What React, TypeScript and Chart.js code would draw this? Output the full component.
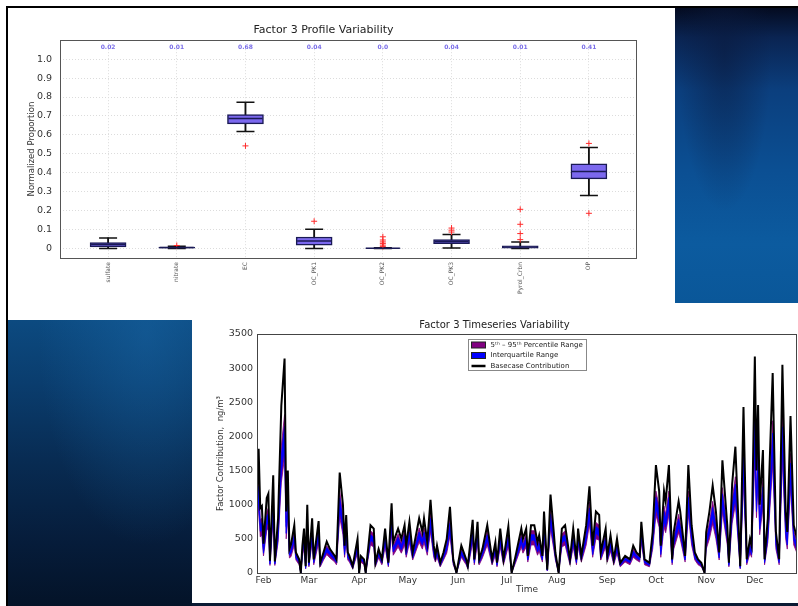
import React, { useEffect, useRef } from "react";
import { Chart, registerables } from "chart.js";

Chart.register(...registerables);

const FONT = "'DejaVu Sans', 'Liberation Sans', sans-serif";

// ---------- Profile (box plot) data ----------
const profileLabels = ["sulfate", "nitrate", "EC", "OC_PK1", "OC_PK2", "OC_PK3", "Pyrol_Crbn", "OP"];
const profileTopValues = ["0.02", "0.01", "0.68", "0.04", "0.0", "0.04", "0.01", "0.41"];
const boxQ1 = [0.009, 0.002, 0.658, 0.018, 0.0, 0.026, 0.002, 0.368];
const boxQ3 = [0.032, 0.008, 0.707, 0.061, 0.002, 0.047, 0.014, 0.447];
const boxMedian = [0.021, 0.005, 0.686, 0.04, 0.001, 0.037, 0.008, 0.407];
const whiskerLow = [0.0, 0.0, 0.618, 0.0, 0.0, 0.003, 0.0, 0.28];
const whiskerHigh = [0.056, 0.012, 0.772, 0.102, 0.004, 0.074, 0.035, 0.533];
const outliers = [
  [],
  [0.016],
  [0.542],
  [0.144],
  [0.01, 0.018, 0.027, 0.035, 0.045, 0.062],
  [0.087, 0.097, 0.108],
  [0.047, 0.079, 0.128, 0.207],
  [0.555, 0.186],
];
const profileYTicks = [0, 0.1, 0.2, 0.3, 0.4, 0.5, 0.6, 0.7, 0.8, 0.9, 1.0];

// ---------- Timeseries data (day of year) ----------
const monthDays = [31, 59, 90, 120, 151, 181, 212, 243, 273, 304, 334];
const monthNames = ["Feb", "Mar", "Apr", "May", "Jun", "Jul", "Aug", "Sep", "Oct", "Nov", "Dec"];
const seriesYTicks = [0, 500, 1000, 1500, 2000, 2500, 3000, 3500];

const seriesDays = [
  27, 28, 29, 30, 31, 33, 34, 35, 37, 38,
  40, 42, 44, 45, 46, 47, 48, 50, 51, 53,
  54, 55, 56, 57, 58, 59, 61, 62, 65, 66,
  68, 70, 72, 75, 76, 78, 80, 81, 82, 83,
  84, 86, 89, 90, 91, 93, 94, 97, 99, 100,
  102, 104, 106, 108, 110, 111, 114, 116, 118, 119,
  121, 123, 127, 129, 130, 132, 134, 136, 137, 138,
  140, 142, 144, 146, 148, 150, 153, 156, 157, 160,
  161, 163, 164, 166, 169, 172, 174, 175, 177, 179,
  182, 184, 186, 190, 191, 193, 194, 196, 198, 200,
  201, 203, 204, 206, 208, 210, 211, 213, 215, 217,
  220, 222, 224, 225, 227, 230, 232, 234, 236, 238,
  239, 242, 243, 245, 247, 249, 251, 254, 257, 259,
  261, 263, 264, 266, 269, 271, 273, 275, 276, 278,
  279, 281, 283, 284, 287, 288, 291, 293, 295, 297,
  299, 301, 303, 304, 306, 308, 310, 312, 314, 317,
  318, 320, 322, 325, 327, 329, 331, 332, 334, 335,
  336, 337, 339, 340, 342, 345, 347, 349, 351, 353,
  354, 356, 358, 360,
];

const basecase = [
  1050, 1820, 950, 980, 430, 1100, 1160, 180, 1430, 170,
  800, 2450, 3140, 900, 1500, 350, 420, 700, 300, 200,
  0, 400, 650, 100, 1000, 150, 800, 200, 760, 150,
  300, 460, 350, 250, 200, 1470, 1000, 400, 850, 300,
  250, 100, 500, 0, 250, 200, 0, 700, 650, 150,
  350, 200, 650, 150, 1020, 450, 650, 500, 700, 400,
  750, 300, 800, 600, 800, 450, 1070, 400, 250, 400,
  150, 300, 500, 970, 200, 0, 400, 200, 100, 780,
  200, 750, 200, 350, 700, 200, 450, 150, 650, 200,
  680, 0, 200, 650, 500, 650, 250, 700, 700, 450,
  550, 250, 900, 50, 1150, 600, 300, 0, 650, 700,
  200, 650, 200, 650, 250, 700, 1270, 400, 900, 850,
  300, 650, 250, 550, 200, 500, 150, 250, 200, 400,
  300, 250, 750, 200, 150, 600, 1580, 1200, 400, 1200,
  1050, 1580, 200, 600, 1050, 900, 250, 1580, 700, 300,
  200, 150, 0, 600, 900, 1280, 900, 300, 1650, 700,
  150, 1300, 1850, 100, 2430, 200, 500, 400, 3170, 1500,
  2460, 1000, 1800, 200, 800, 2930, 600, 200, 3050, 900,
  600, 2300, 700, 500,
];

const p95 = [
  860, 1380, 780, 800, 380, 900, 950, 170, 1170, 160,
  660, 1860, 2320, 740, 1140, 330, 370, 620, 290, 190,
  0, 350, 570, 100, 820, 140, 660, 190, 670, 140,
  290, 400, 330, 240, 190, 1210, 820, 350, 700, 290,
  240, 100, 440, 0, 240, 190, 0, 620, 570, 140,
  330, 190, 570, 140, 840, 400, 570, 440, 620, 350,
  660, 290, 660, 530, 660, 400, 880, 350, 240, 350,
  140, 290, 440, 800, 190, 0, 350, 190, 100, 690,
  190, 660, 190, 330, 620, 190, 400, 140, 570, 190,
  600, 0, 190, 570, 440, 570, 240, 620, 620, 400,
  480, 240, 740, 50, 940, 530, 290, 0, 570, 620,
  190, 570, 190, 570, 240, 620, 1040, 350, 740, 700,
  290, 570, 240, 480, 190, 440, 140, 240, 190, 350,
  290, 240, 660, 190, 140, 530, 1200, 980, 350, 980,
  860, 1200, 190, 530, 860, 740, 240, 1200, 620, 290,
  190, 140, 0, 530, 740, 1050, 740, 290, 1250, 620,
  140, 1070, 1410, 100, 1850, 190, 440, 350, 2410, 1140,
  1870, 820, 1370, 190, 660, 2230, 530, 190, 2320, 740,
  530, 1750, 620, 440,
];

const p75 = [
  790, 1270, 710, 740, 340, 830, 870, 160, 1070, 150,
  600, 1720, 2150, 680, 1050, 310, 340, 560, 260, 180,
  0, 320, 520, 90, 750, 130, 600, 180, 610, 130,
  260, 370, 310, 220, 180, 1100, 750, 320, 640, 260,
  220, 90, 400, 0, 220, 180, 0, 560, 520, 130,
  310, 180, 520, 130, 770, 360, 520, 400, 560, 320,
  600, 260, 600, 480, 600, 360, 800, 320, 220, 320,
  130, 260, 400, 730, 180, 0, 320, 180, 90, 620,
  180, 600, 180, 310, 560, 180, 360, 130, 520, 180,
  540, 0, 180, 520, 400, 520, 220, 560, 560, 360,
  440, 220, 680, 40, 860, 480, 260, 0, 520, 560,
  180, 520, 180, 520, 220, 560, 950, 320, 680, 640,
  260, 520, 220, 440, 180, 400, 130, 220, 180, 320,
  260, 220, 600, 180, 130, 480, 1110, 900, 320, 900,
  790, 1110, 180, 480, 790, 680, 220, 1110, 560, 260,
  180, 130, 0, 480, 680, 960, 680, 260, 1160, 560,
  130, 980, 1300, 90, 1700, 180, 400, 320, 2220, 1050,
  1720, 750, 1260, 180, 600, 2050, 480, 180, 2140, 680,
  480, 1610, 560, 400,
];

const p25 = [
  670, 1090, 610, 630, 290, 700, 740, 130, 920, 130,
  510, 1470, 1850, 580, 900, 260, 290, 480, 220, 150,
  0, 270, 440, 70, 640, 110, 510, 150, 520, 110,
  220, 310, 260, 190, 150, 940, 640, 270, 540, 220,
  190, 70, 340, 0, 190, 150, 0, 480, 440, 110,
  260, 150, 440, 110, 650, 310, 440, 340, 480, 270,
  510, 220, 510, 410, 510, 310, 680, 270, 190, 270,
  110, 220, 340, 620, 150, 0, 270, 150, 70, 530,
  150, 510, 150, 260, 480, 150, 310, 110, 440, 150,
  460, 0, 150, 440, 340, 440, 190, 480, 480, 310,
  370, 190, 580, 40, 740, 410, 220, 0, 440, 480,
  150, 440, 150, 440, 190, 480, 810, 270, 580, 540,
  220, 440, 190, 370, 150, 340, 110, 190, 150, 270,
  220, 190, 510, 150, 110, 410, 950, 770, 270, 770,
  670, 950, 150, 410, 670, 580, 190, 950, 480, 220,
  150, 110, 0, 410, 580, 820, 580, 220, 990, 480,
  110, 830, 1110, 70, 1460, 150, 340, 270, 1900, 900,
  1480, 640, 1080, 150, 510, 1760, 410, 150, 1830, 580,
  410, 1380, 480, 340,
];

const p5 = [
  590, 980, 530, 550, 250, 620, 650, 110, 800, 110,
  450, 1320, 1700, 500, 810, 220, 240, 410, 190, 120,
  0, 230, 380, 60, 560, 90, 450, 120, 440, 90,
  190, 270, 220, 160, 120, 820, 560, 230, 480, 190,
  160, 60, 290, 0, 160, 120, 0, 410, 380, 90,
  220, 120, 380, 90, 570, 260, 380, 290, 410, 230,
  440, 190, 450, 350, 450, 260, 600, 230, 160, 230,
  90, 190, 290, 540, 120, 0, 230, 120, 60, 450,
  120, 440, 120, 220, 410, 120, 260, 90, 380, 120,
  390, 0, 120, 380, 290, 380, 160, 410, 410, 260,
  320, 160, 500, 30, 640, 350, 190, 0, 380, 410,
  120, 380, 120, 380, 160, 410, 710, 230, 500, 480,
  190, 380, 160, 320, 120, 290, 90, 160, 120, 230,
  190, 160, 440, 120, 90, 350, 850, 670, 230, 670,
  590, 850, 120, 350, 590, 500, 160, 850, 410, 190,
  120, 90, 0, 350, 500, 720, 500, 190, 890, 410,
  90, 730, 1000, 60, 1310, 120, 290, 230, 1710, 810,
  1330, 560, 970, 120, 450, 1580, 350, 120, 1650, 500,
  350, 1240, 410, 290,
];

const legendItems = [
  { text: "5\u1D57\u02B0 \u2013 95\u1D57\u02B0 Percentile Range", color: "#800080", kind: "patch" },
  { text: "Interquartile Range", color: "#0000ff", kind: "patch" },
  { text: "Basecase Contribution", color: "#000000", kind: "line" },
];

// ---------- plugins ----------
const framePlugin = (color: string) => ({
  id: "frameBox",
  afterDatasetsDraw(chart: any) {
    const { ctx, chartArea: a } = chart;
    ctx.save();
    ctx.strokeStyle = color;
    ctx.lineWidth = 1;
    ctx.strokeRect(Math.round(a.left) + 0.5, Math.round(a.top) + 0.5, Math.round(a.right - a.left) - 1, Math.round(a.bottom - a.top));
    ctx.restore();
  },
});

const topValuesPlugin = {
  id: "topValues",
  afterDatasetsDraw(chart: any) {
    const { ctx, chartArea: a, scales } = chart;
    ctx.save();
    ctx.fillStyle = "#7a6ee8";
    ctx.font = `bold 6px ${FONT}`;
    ctx.textAlign = "center";
    ctx.textBaseline = "middle";
    profileTopValues.forEach((t, i) => {
      ctx.fillText(t, scales.x.getPixelForValue(i + 1), a.top + 7);
    });
    ctx.restore();
  },
};

const seriesLegendPlugin = {
  id: "seriesLegend",
  afterDraw(chart: any) {
    const { ctx, chartArea: a } = chart;
    const x0 = Math.round(a.left + 211) + 0.5;
    const y0 = Math.round(a.top + 5) + 0.5;
    const w = 118;
    const h = 31;
    ctx.save();
    ctx.fillStyle = "#ffffff";
    ctx.fillRect(x0, y0, w, h);
    ctx.strokeStyle = "#888";
    ctx.lineWidth = 1;
    ctx.strokeRect(x0, y0, w, h);
    ctx.font = `7px ${FONT}`;
    ctx.textBaseline = "middle";
    ctx.textAlign = "left";
    legendItems.forEach((it, i) => {
      const cy = y0 + 5.5 + i * 10.5;
      if (it.kind === "patch") {
        ctx.fillStyle = it.color;
        ctx.fillRect(x0 + 3, cy - 3, 14, 6);
        ctx.strokeStyle = "#222";
        ctx.strokeRect(x0 + 3, cy - 3, 14, 6);
      } else {
        ctx.strokeStyle = it.color;
        ctx.lineWidth = 2.5;
        ctx.beginPath();
        ctx.moveTo(x0 + 3, cy);
        ctx.lineTo(x0 + 17, cy);
        ctx.stroke();
        ctx.lineWidth = 1;
      }
      ctx.fillStyle = "#222";
      ctx.fillText(it.text, x0 + 22, cy);
    });
    ctx.restore();
  },
};

function profileConfig(): any {
  const boxData = profileLabels.map((_, i) => ({ x: i + 1, y: [boxQ1[i], boxQ3[i]] }));
  const whiskerData = profileLabels.map((_, i) => ({ x: i + 1, y: [whiskerLow[i], whiskerHigh[i]] }));
  const capData = profileLabels.flatMap((_, i) => [
    { x: i + 1, y: whiskerLow[i] },
    { x: i + 1, y: whiskerHigh[i] },
  ]);
  const medianData = profileLabels.map((_, i) => ({ x: i + 1, y: boxMedian[i] }));
  const outlierData = outliers.flatMap((arr, i) => arr.map((v) => ({ x: i + 1, y: v })));

  return {
    type: "bar",
    data: {
      datasets: [
        {
          type: "bar",
          label: "box",
          data: boxData,
          backgroundColor: "#7b68ee",
          borderColor: "#1a1a55",
          borderWidth: 1.5,
          borderSkipped: false,
          barThickness: 36,
          grouped: false,
          order: 1,
        },
        {
          type: "bar",
          label: "whisker",
          data: whiskerData,
          backgroundColor: "#111111",
          borderWidth: 0,
          barThickness: 1.2,
          grouped: false,
          order: 3,
        },
        {
          type: "scatter",
          label: "caps",
          data: capData,
          pointStyle: "line",
          pointRadius: 9,
          pointBorderColor: "#111111",
          pointBorderWidth: 1.5,
          order: 2,
        },
        {
          type: "scatter",
          label: "median",
          data: medianData,
          pointStyle: "line",
          pointRadius: 17,
          pointBorderColor: "#1a1a55",
          pointBorderWidth: 1.5,
          order: 0,
        },
        {
          type: "scatter",
          label: "outliers",
          data: outlierData,
          pointStyle: "cross",
          pointRadius: 3,
          pointBorderColor: "#ff2a2a",
          pointBorderWidth: 1,
          order: 0,
        },
      ],
    },
    options: {
      animation: false,
      responsive: false,
      maintainAspectRatio: false,
      events: [],
      layout: { padding: { left: 0, right: 38, top: 0, bottom: 0 } },
      plugins: {
        legend: { display: false },
        tooltip: { enabled: false },
        title: {
          display: true,
          text: "Factor 3 Profile Variability",
          color: "#222",
          font: { family: FONT, size: 11, weight: "normal" },
          padding: { top: 14, bottom: 3 },
        },
      },
      scales: {
        x: {
          type: "linear",
          min: 0.3,
          max: 8.7,
          offset: false,
          grid: { offset: false, color: "#dcdcdc", drawTicks: false },
          border: { display: false, dash: [1, 2] },
          afterBuildTicks: (s: any) => {
            s.ticks = profileLabels.map((_, i) => ({ value: i + 1 }));
          },
          afterFit: (s: any) => {
            s.height = 58;
          },
          ticks: {
            autoSkip: false,
            minRotation: 90,
            maxRotation: 90,
            padding: 4,
            color: "#555",
            font: { family: FONT, size: 6 },
            callback: (_v: any, i: number) => profileLabels[i],
          },
        },
        y: {
          type: "linear",
          min: -0.05,
          max: 1.1,
          grid: { color: "#dcdcdc", drawTicks: false },
          border: { display: false, dash: [1, 2] },
          afterBuildTicks: (s: any) => {
            s.ticks = profileYTicks.map((v) => ({ value: v }));
          },
          afterFit: (s: any) => {
            s.width = 50;
          },
          ticks: {
            padding: 8,
            color: "#333",
            font: { family: FONT, size: 9.5 },
            callback: (v: any) => (Number(v) === 0 ? "0" : Number(v).toFixed(1)),
          },
          title: {
            display: true,
            text: "Normalized Proportion",
            color: "#333",
            font: { family: FONT, size: 8.5 },
            padding: { top: 17, bottom: 0 },
          },
        },
      },
    },
    plugins: [framePlugin("#555"), topValuesPlugin],
  };
}

function seriesConfig(): any {
  const pts = (vals: number[]) => seriesDays.map((d, i) => ({ x: d, y: vals[i] }));
  const band = (vals: number[], color: string, fillTarget: number | false, order: number) => ({
    data: pts(vals),
    borderColor: color,
    borderWidth: 0.8,
    backgroundColor: color,
    fill: fillTarget === false ? false : { target: fillTarget },
    pointRadius: 0,
    tension: 0,
    order,
  });
  return {
    type: "line",
    data: {
      datasets: [
        { label: "p95", ...band(p95, "#800080", 1, 2) },
        { label: "p5", ...band(p5, "#800080", false, 2) },
        { label: "p75", ...band(p75, "#0000ff", 3, 1) },
        { label: "p25", ...band(p25, "#0000ff", false, 1) },
        {
          label: "Basecase Contribution",
          data: pts(basecase),
          borderColor: "#000000",
          borderWidth: 2,
          pointRadius: 0,
          fill: false,
          tension: 0,
          order: 0,
        },
      ],
    },
    options: {
      animation: false,
      responsive: false,
      maintainAspectRatio: false,
      events: [],
      layout: { padding: { left: 0, right: 1, top: 0, bottom: 0 } },
      plugins: {
        legend: { display: false },
        tooltip: { enabled: false },
        title: {
          display: true,
          text: "Factor 3 Timeseries Variability",
          color: "#222",
          font: { family: FONT, size: 10, weight: "normal" },
          padding: { top: 1, bottom: 3 },
        },
      },
      scales: {
        x: {
          type: "linear",
          min: 27,
          max: 360,
          grid: { display: false, drawTicks: false },
          border: { display: false },
          afterBuildTicks: (s: any) => {
            s.ticks = monthDays.map((v) => ({ value: v }));
          },
          afterFit: (s: any) => {
            s.height = 30;
          },
          ticks: {
            autoSkip: false,
            maxRotation: 0,
            minRotation: 0,
            padding: 2,
            color: "#333",
            font: { family: FONT, size: 9 },
            callback: (_v: any, i: number) => monthNames[i],
          },
          title: {
            display: true,
            text: "Time",
            color: "#333",
            font: { family: FONT, size: 9 },
            padding: { top: 0, bottom: 8 },
          },
        },
        y: {
          type: "linear",
          min: 0,
          max: 3500,
          grid: { display: false, drawTicks: false },
          border: { display: false },
          afterBuildTicks: (s: any) => {
            s.ticks = seriesYTicks.map((v) => ({ value: v }));
          },
          afterFit: (s: any) => {
            s.width = 65;
          },
          ticks: {
            padding: 4,
            color: "#333",
            font: { family: FONT, size: 9.5 },
            callback: (v: any) => String(v),
          },
          title: {
            display: true,
            text: "Factor Contribution,  ng/m\u00B3",
            color: "#333",
            font: { family: FONT, size: 8.5 },
            padding: { top: 24, bottom: 0 },
          },
        },
      },
    },
    plugins: [framePlugin("#444"), seriesLegendPlugin],
  };
}

export default function App() {
  const topRef = useRef<HTMLCanvasElement>(null);
  const botRef = useRef<HTMLCanvasElement>(null);

  useEffect(() => {
    const c1 = new Chart(topRef.current as HTMLCanvasElement, profileConfig());
    const c2 = new Chart(botRef.current as HTMLCanvasElement, seriesConfig());
    return () => {
      c1.destroy();
      c2.destroy();
    };
  }, []);

  return (
    <div
      style={{
        position: "absolute",
        left: 0,
        top: 0,
        width: 798,
        height: 606,
        background: "#ffffff",
        overflow: "hidden",
      }}
    >
      <div style={{ position: "absolute", left: 6, top: 6, width: 792, height: 2, background: "#000" }} />
      <div style={{ position: "absolute", left: 6, top: 6, width: 2, height: 600, background: "#000" }} />
      <div
        style={{
          position: "absolute",
          left: 675,
          top: 8,
          width: 123,
          height: 295,
          background:
            "radial-gradient(ellipse at 40% 15%, rgba(10,25,60,0.55), rgba(0,0,0,0) 45%), linear-gradient(180deg, #040b20 0%, #0a2452 10%, #0b3f7e 28%, #0b4f93 55%, #0c5b9f 80%, #0a5799 100%)",
        }}
      />
      <div
        style={{
          position: "absolute",
          left: 8,
          top: 320,
          width: 184,
          height: 286,
          background:
            "radial-gradient(ellipse at 75% 5%, rgba(25,105,170,0.45), rgba(0,0,0,0) 55%), linear-gradient(180deg, #0c4a80 0%, #0a3d6e 22%, #082b52 50%, #061c3a 78%, #041328 100%)",
        }}
      />
      <div style={{ position: "absolute", left: 192, top: 603, width: 606, height: 3, background: "#0a1a33" }} />
      <canvas
        ref={topRef}
        width={665}
        height={306}
        style={{ position: "absolute", left: 10, top: 10, width: 665, height: 306 }}
      />
      <canvas
        ref={botRef}
        width={606}
        height={285}
        style={{ position: "absolute", left: 192, top: 318, width: 606, height: 285 }}
      />
    </div>
  );
}
